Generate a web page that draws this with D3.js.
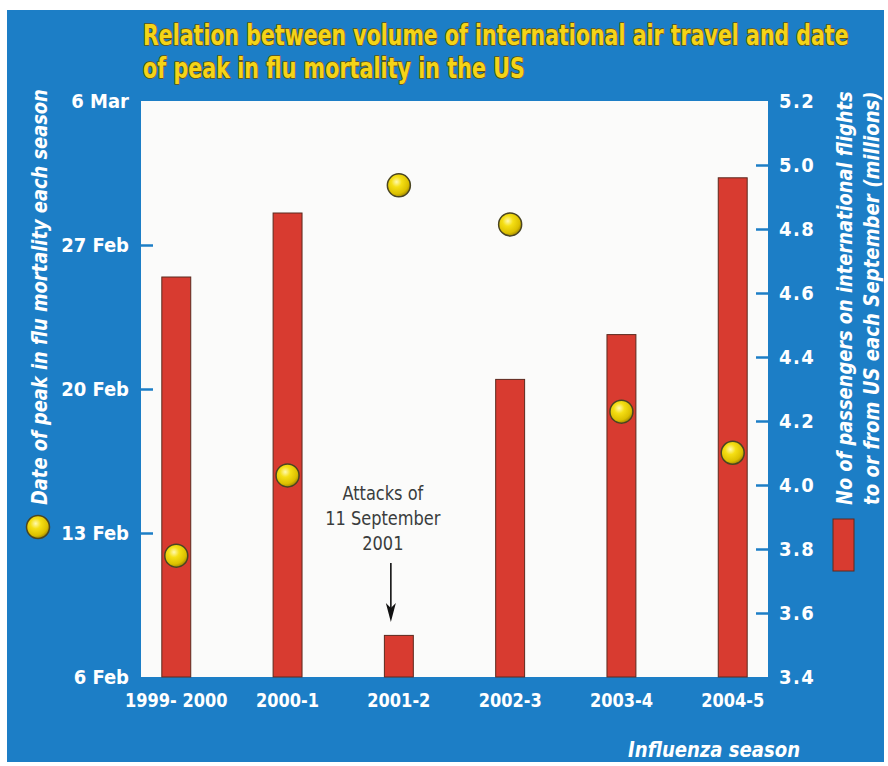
<!DOCTYPE html>
<html>
<head>
<meta charset="utf-8">
<script src="https://cdn.jsdelivr.net/npm/d3@7"></script>
<style>
  html, body { margin: 0; padding: 0; background: #ffffff; }
  svg { display: block; }
  text { font-family: "Liberation Sans Narrow", "DejaVu Sans Condensed", "Liberation Sans", sans-serif; }
</style>
</head>
<body>
<script>
// ---- data ----
const seasons = ["1999- 2000", "2000-1", "2001-2", "2002-3", "2003-4", "2004-5"];
const passengersMillions = [4.65, 4.85, 3.53, 4.33, 4.47, 4.96];
// date of peak flu mortality, expressed as day of February (29.9 ≈ 1 March)
const peakDayOfFeb = [11.9, 15.8, 29.9, 28.0, 18.9, 16.9];
const dateTicks = [6, 13, 20, 27, 34];
const dateTickLabels = ["6 Feb", "13 Feb", "20 Feb", "27 Feb", "6 Mar"];
const passengerTicks = [3.4, 3.6, 3.8, 4.0, 4.2, 4.4, 4.6, 4.8, 5.0, 5.2];
const titleLines = ["Relation between volume of international air travel and date",
                    "of peak in flu mortality in the US"];
const leftTitle = "Date of peak in flu mortality each season";
const rightTitleLines = ["No of passengers on international flights",
                         "to or from US each September (millions)"];
const xTitle = "Influenza season";
const annotationLines = ["Attacks of", "11 September", "2001"];

// ---- layout ----
const W = 888, H = 766;
const plot = { left: 141, right: 768, top: 101, bottom: 677 };
const BLUE = "#1c7ec6";

const svg = d3.select("body").append("svg").attr("width", W).attr("height", H);

const defs = svg.append("defs");
const grad = defs.append("radialGradient").attr("id", "ball")
  .attr("cx", "40%").attr("cy", "35%").attr("r", "65%");
grad.append("stop").attr("offset", "0%").attr("stop-color", "#fff9b0");
grad.append("stop").attr("offset", "35%").attr("stop-color", "#f5df14");
grad.append("stop").attr("offset", "80%").attr("stop-color", "#dcc000");
grad.append("stop").attr("offset", "100%").attr("stop-color", "#a88f00");

// squeeze a text horizontally (along its own direction) to a target length
function squeeze(textSel, target) {
  const w = textSel.node().getComputedTextLength();
  if (w > 0) textSel.attr("transform", `scale(${target / w},1)`);
}

// background
svg.append("rect").attr("x", 7).attr("y", 10).attr("width", 877).attr("height", 752).attr("fill", BLUE);
svg.append("rect").attr("x", plot.left).attr("y", plot.top)
  .attr("width", plot.right - plot.left).attr("height", plot.bottom - plot.top).attr("fill", "#fbfbfa");

// ---- scales ----
const x = d3.scaleBand().domain(seasons).range([plot.left, plot.right])
  .paddingInner(0.74).paddingOuter(0.187);
const yDate = d3.scaleLinear().domain([6, 34]).range([plot.bottom, plot.top]);
const yPass = d3.scaleLinear().domain([3.4, 5.2]).range([plot.bottom, plot.top]);

// ---- bars ----
svg.append("g").selectAll("rect").data(seasons).join("rect")
  .attr("x", d => x(d))
  .attr("width", x.bandwidth())
  .attr("y", (d, i) => yPass(passengersMillions[i]))
  .attr("height", (d, i) => plot.bottom - yPass(passengersMillions[i]))
  .attr("fill", "#d83b30").attr("stroke", "#5b2a1e").attr("stroke-width", 1);

// ---- points ----
svg.append("g").selectAll("circle").data(seasons).join("circle")
  .attr("cx", d => x(d) + x.bandwidth() / 2)
  .attr("cy", (d, i) => yDate(peakDayOfFeb[i]))
  .attr("r", 11.5)
  .attr("fill", "url(#ball)").attr("stroke", "#4a4522").attr("stroke-width", 1.5);

// ---- axes ----
function styleAxis(g) {
  g.select(".domain").remove();
  g.selectAll(".tick line").attr("stroke", BLUE).attr("stroke-width", 2.5);
  g.selectAll(".tick text").attr("fill", "#ffffff").attr("font-weight", "bold")
    .attr("font-size", 20);
}
const leftAxis = d3.axisLeft(yDate).tickValues(dateTicks)
  .tickFormat((d, i) => dateTickLabels[i]).tickSize(-12).tickPadding(12);
svg.append("g").attr("transform", `translate(${plot.left},0)`).call(leftAxis).call(styleAxis)
  .call(g => g.selectAll(".tick line").filter(d => d === 6 || d === 34).remove());

const rightAxis = d3.axisRight(yPass).tickValues(passengerTicks)
  .tickFormat(d3.format(".1f")).tickSize(-12).tickPadding(11);
svg.append("g").attr("transform", `translate(${plot.right},0)`).call(rightAxis).call(styleAxis)
  .call(g => g.selectAll(".tick line").filter(d => d < 3.45 || d > 5.15).remove())
  .call(g => g.selectAll(".tick text").attr("letter-spacing", 1.5));

const bottomAxis = d3.axisBottom(x).tickSize(0).tickPadding(16);
svg.append("g").attr("transform", `translate(0,${plot.bottom})`).call(bottomAxis).call(styleAxis)
  .call(g => g.selectAll(".tick text").attr("transform", "scale(0.9,1)"));

// ---- titles ----
titleLines.forEach((t, i) => {
  const g = svg.append("g").attr("transform", `translate(143,${45 + i * 33})`);
  const tx = g.append("text").attr("x", 0).attr("y", 0)
    .attr("font-size", 28).attr("font-weight", "bold")
    .attr("fill", "#f4d418").attr("stroke", "#6a5208").attr("stroke-width", 1.6)
    .attr("paint-order", "stroke").attr("stroke-linejoin", "round")
    .text(t);
  squeeze(tx, i === 0 ? 706 : 382);
});

{
  const g = svg.append("g").attr("transform", "translate(47,505) rotate(-90)");
  const tx = g.append("text").attr("font-size", 21).attr("font-weight", "bold").attr("font-style", "italic")
    .attr("fill", "#fff").text(leftTitle);
  squeeze(tx, 416);
}

rightTitleLines.forEach((t, i) => {
  const g = svg.append("g").attr("transform", `translate(${852 + i * 27},505) rotate(-90)`);
  const tx = g.append("text").attr("font-size", 21).attr("font-weight", "bold").attr("font-style", "italic")
    .attr("fill", "#fff").text(t);
  squeeze(tx, 414);
});

{
  const g = svg.append("g").attr("transform", "translate(800,757)");
  const tx = g.append("text").attr("text-anchor", "end")
    .attr("font-size", 21).attr("font-weight", "bold").attr("font-style", "italic")
    .attr("fill", "#fff").text(xTitle);
  squeeze(tx, 172);
}

// ---- legend marks ----
svg.append("circle").attr("cx", 38).attr("cy", 527).attr("r", 11.5)
  .attr("fill", "url(#ball)").attr("stroke", "#4a4522").attr("stroke-width", 1.5);
svg.append("rect").attr("x", 833).attr("y", 519).attr("width", 21).attr("height", 52)
  .attr("fill", "#d83b30").attr("stroke", "#5b2a1e").attr("stroke-width", 1);

// ---- annotation ----
const annX = x("2001-2") + x.bandwidth() / 2 - 16;
annotationLines.forEach((t, i) => {
  const g = svg.append("g").attr("transform", `translate(${annX},${500 + i * 25})`);
  const tx = g.append("text").attr("text-anchor", "middle")
    .attr("font-size", 20).attr("fill", "#3a3d3d").text(t);
  tx.attr("transform", "scale(0.9,1)");
});
const arrowX = x("2001-2") + x.bandwidth() / 2 - 8;
svg.append("line").attr("x1", arrowX).attr("x2", arrowX)
  .attr("y1", 563).attr("y2", 610)
  .attr("stroke", "#111").attr("stroke-width", 1.6);
svg.append("path")
  .attr("d", `M${arrowX},622 L${arrowX - 5},603 L${arrowX},608 L${arrowX + 5},603 Z`)
  .attr("fill", "#111");
</script>
</body>
</html>
